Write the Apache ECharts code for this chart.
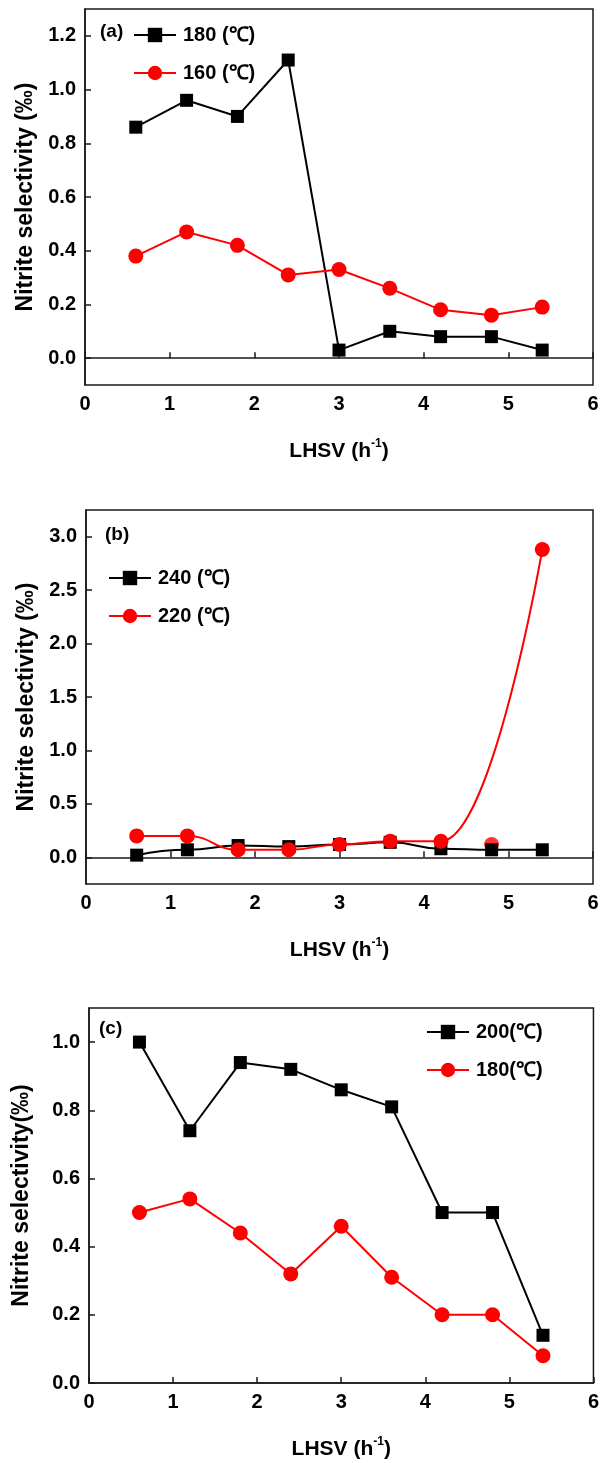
<!DOCTYPE html>
<html>
<head>
<meta charset="utf-8">
<script src="https://cdn.jsdelivr.net/npm/echarts@6/dist/echarts.min.js"></script>
<style>
html,body{margin:0;padding:0;background:#fff;}
#chart{width:602px;height:1463px;}
</style>
</head>
<body>
<div id="chart"></div>
<script>
// ---- data ----
const LHSV = [0.6, 1.2, 1.8, 2.4, 3.0, 3.6, 4.2, 4.8, 5.4];
const xTicks = [0, 1, 2, 3, 4, 5, 6];

// panel (a)
const a180 = [0.86, 0.96, 0.90, 1.11, 0.03, 0.10, 0.08, 0.08, 0.03];
const a160 = [0.38, 0.47, 0.42, 0.31, 0.33, 0.26, 0.18, 0.16, 0.19];
const yTicksA = [0, 0.2, 0.4, 0.6, 0.8, 1.0, 1.2];

// panel (b)
const b240 = [0.02, 0.07, 0.11, 0.10, 0.12, 0.14, 0.08, 0.07, 0.07];
const b220 = [0.20, 0.20, 0.07, 0.07, 0.12, 0.15, 0.15, 0.12, 2.88];
const b220Unjoined = [4.8]; // point plotted but not on the curve
const yTicksB = [0, 0.5, 1.0, 1.5, 2.0, 2.5, 3.0];

// panel (c)
const c200 = [1.00, 0.74, 0.94, 0.92, 0.86, 0.81, 0.50, 0.50, 0.14];
const c180 = [0.50, 0.54, 0.44, 0.32, 0.46, 0.31, 0.20, 0.20, 0.08];
const yTicksC = [0, 0.2, 0.4, 0.6, 0.8, 1.0];

const names = {
  a: ['180 (℃)', '160 (℃)'],
  b: ['240 (℃)', '220 (℃)'],
  c: ['200(℃)', '180(℃)']
};
const panelTags = ['(a)', '(b)', '(c)'];
const yNames = ['Nitrite selectivity (‰)', 'Nitrite selectivity (‰)', 'Nitrite selectivity(‰)'];
const xName = 'LHSV (h{sup|-1})';

// ---- helpers ----
const FONT = '"Liberation Sans", Arial, sans-serif';
const BLACK = '#000000';
const RED = '#ff0000';
const pairs = (xs, ys) => xs.map((x, i) => [x, ys[i]]);

const grids = [
  {left: 85, top: 9, right: 9, height: 376},
  {left: 86, top: 510, right: 9, height: 374},
  {left: 89, top: 1008, right: 5, height: 375}
];
const yRanges = [[-0.1, 1.3], [-0.25, 3.25], [0, 1.1]];
const yTicks = [yTicksA, yTicksB, yTicksC];
const yNameGaps = [46, 46, 56];

const option = {
  backgroundColor: '#fff',
  animation: false,
  grid: grids.map(g => Object.assign({show: true, borderColor: '#1a1a1a', borderWidth: 1.5, backgroundColor: 'transparent'}, g)),
  xAxis: grids.map((g, i) => ({
    type: 'value', gridIndex: i, min: 0, max: 6, interval: 1,
    splitLine: {show: false},
    axisLine: {show: true, lineStyle: {color: '#1a1a1a', width: 1.5}},
    axisTick: {show: true, inside: true, length: 6, lineStyle: {color: '#1a1a1a', width: 1.5}, customValues: xTicks},
    axisLabel: {customValues: xTicks, color: '#000', fontFamily: FONT, fontWeight: 'bold', fontSize: 20, margin: 9},
    name: xName, nameLocation: 'middle', nameGap: 53,
    nameTextStyle: {color: '#000', fontFamily: FONT, fontWeight: 'bold', fontSize: 21, lineHeight: 26,
      rich: {sup: {fontFamily: FONT, fontWeight: 'bold', fontSize: 12, color: '#000', verticalAlign: 'top', lineHeight: 12}}}
  })),
  yAxis: grids.map((g, i) => ({
    type: 'value', gridIndex: i, min: yRanges[i][0], max: yRanges[i][1],
    splitLine: {show: false},
    axisLine: {show: true, lineStyle: {color: '#1a1a1a', width: 1.5}},
    axisTick: {show: true, inside: true, length: 6, lineStyle: {color: '#1a1a1a', width: 1.5}, customValues: yTicks[i]},
    axisLabel: {customValues: yTicks[i], formatter: v => Number(v).toFixed(1), color: '#000', fontFamily: FONT, fontWeight: 'bold', fontSize: 20, margin: 9},
    name: yNames[i], nameLocation: 'middle', nameGap: yNameGaps[i], nameRotate: 90,
    nameTextStyle: {color: '#000', fontFamily: FONT, fontWeight: 'bold', fontSize: 23}
  })),
  legend: [
    {data: names.a, left: 133, top: 25},
    {data: names.b, left: 108, top: 568},
    {data: names.c, left: 426, top: 1022}
  ].map(l => Object.assign({
    orient: 'vertical', padding: 0, itemWidth: 42, itemHeight: 18, itemGap: 18,
    textStyle: {color: '#000', fontFamily: FONT, fontWeight: 'bold', fontSize: 20, lineHeight: 20, padding: [0, 0, 0, 2]}
  }, l)),
  graphic: [
    {left: 100, top: 22},
    {left: 105, top: 525},
    {left: 99, top: 1019}
  ].map((p, i) => ({type: 'text', left: p.left, top: p.top,
    style: {text: panelTags[i], fill: '#000', font: 'bold 19px ' + FONT}})),
  series: [
    {name: names.a[0], type: 'line', xAxisIndex: 0, yAxisIndex: 0, data: pairs(LHSV, a180),
      symbol: 'rect', symbolSize: 13, color: BLACK, lineStyle: {width: 2, color: BLACK}, itemStyle: {color: BLACK}},
    {name: names.a[1], type: 'line', xAxisIndex: 0, yAxisIndex: 0, data: pairs(LHSV, a160),
      symbol: 'circle', symbolSize: 15, color: RED, lineStyle: {width: 2, color: RED}, itemStyle: {color: RED}},
    {name: names.b[0], type: 'line', xAxisIndex: 1, yAxisIndex: 1, data: pairs(LHSV, b240),
      smooth: 0.5, smoothMonotone: 'x',
      symbol: 'rect', symbolSize: 13, color: BLACK, lineStyle: {width: 2, color: BLACK}, itemStyle: {color: BLACK}},
    {name: names.b[1], type: 'line', xAxisIndex: 1, yAxisIndex: 1,
      data: pairs(LHSV, b220).filter(p => !b220Unjoined.includes(p[0])),
      smooth: 0.5, smoothMonotone: 'x',
      symbol: 'circle', symbolSize: 15, color: RED, lineStyle: {width: 2, color: RED}, itemStyle: {color: RED}},
    {name: 'b220-unjoined', type: 'scatter', xAxisIndex: 1, yAxisIndex: 1,
      data: pairs(LHSV, b220).filter(p => b220Unjoined.includes(p[0])),
      symbol: 'circle', symbolSize: 15, itemStyle: {color: RED}},
    {name: names.c[0], type: 'line', xAxisIndex: 2, yAxisIndex: 2, data: pairs(LHSV, c200),
      symbol: 'rect', symbolSize: 13, color: BLACK, lineStyle: {width: 2, color: BLACK}, itemStyle: {color: BLACK}},
    {name: names.c[1], type: 'line', xAxisIndex: 2, yAxisIndex: 2, data: pairs(LHSV, c180),
      symbol: 'circle', symbolSize: 15, color: RED, lineStyle: {width: 2, color: RED}, itemStyle: {color: RED}}
  ]
};

const chart = echarts.init(document.getElementById('chart'), null, {renderer: 'canvas'});
chart.setOption(option);
</script>
</body>
</html>
